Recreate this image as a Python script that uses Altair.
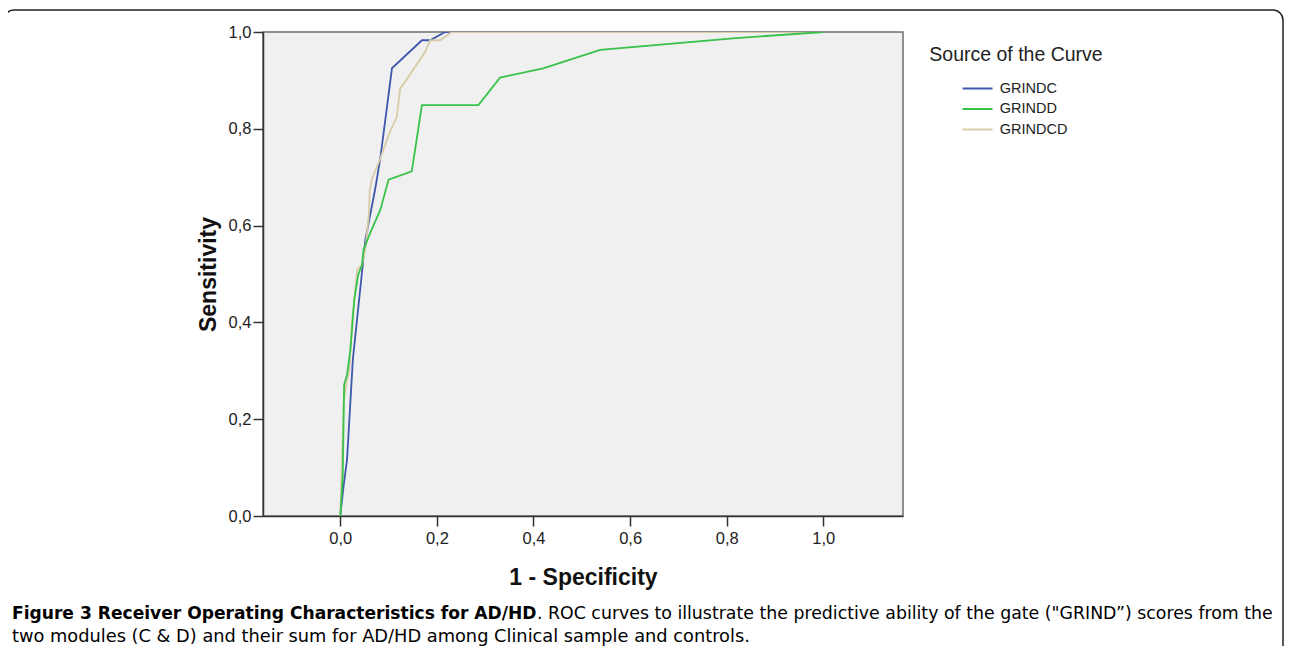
import altair as alt
import pandas as pd

# ---- data (1 - specificity, sensitivity) ----
series_names = ["GRINDC", "GRINDD", "GRINDCD"]
series_colors = ["#3E58AC", "#38C24A", "#D8CCA8"]

c_x = [0.0, 0.006, 0.014, 0.026, 0.052, 0.072, 0.083, 0.107, 0.169, 0.186, 0.217, 1.0]
c_y = [0.0, 0.055, 0.117, 0.323, 0.571, 0.674, 0.740, 0.925, 0.983, 0.983, 1.0, 1.0]

cd_x = [0.0, 0.0035, 0.007, 0.012, 0.019, 0.024, 0.031, 0.035, 0.045, 0.052, 0.059, 0.061,
        0.066, 0.083, 0.100, 0.117, 0.124, 0.134, 0.176, 0.186, 0.207, 0.231, 1.0]
cd_y = [0.0, 0.117, 0.234, 0.271, 0.302, 0.400, 0.467, 0.509, 0.519, 0.550, 0.622, 0.674,
        0.698, 0.739, 0.787, 0.825, 0.884, 0.897, 0.959, 0.983, 0.983, 1.0, 1.0]

d_x = [0.0, 0.005, 0.008, 0.014, 0.021, 0.029, 0.037, 0.045, 0.048, 0.062, 0.083, 0.100,
       0.148, 0.169, 0.286, 0.331, 0.420, 0.538, 0.813, 1.0]
d_y = [0.0, 0.079, 0.271, 0.292, 0.344, 0.447, 0.498, 0.519, 0.550, 0.585, 0.633, 0.695,
       0.712, 0.849, 0.849, 0.906, 0.925, 0.963, 0.987, 1.0]

x_ticks = [0.0, 0.2, 0.4, 0.6, 0.8, 1.0]
y_ticks = [0.0, 0.2, 0.4, 0.6, 0.8, 1.0]

legend_title = "Source of the Curve"
x_title = "1 - Specificity"
y_title = "Sensitivity"
caption_bold = "Figure 3 Receiver Operating Characteristics for AD/HD"
caption_rest = ". ROC curves to illustrate the predictive ability of the gate (\"GRIND\u201d) scores from the"
caption_line2 = "two modules (C & D) and their sum for AD/HD among Clinical sample and controls."

rows = []
# drawing order: GRINDC, GRINDCD, GRINDD (green on top)
for name, xs, ys in [("GRINDC", c_x, c_y), ("GRINDCD", cd_x, cd_y), ("GRINDD", d_x, d_y)]:
    for i, (xv, yv) in enumerate(zip(xs, ys)):
        rows.append({"series": name, "fpr": xv, "tpr": yv, "i": i})
df = pd.DataFrame(rows)

label_expr = "replace(format(datum.value, '.1f'), '.', ',')"

lines = alt.Chart(df).mark_line(strokeWidth=1.8, clip=True).encode(
    x=alt.X("fpr:Q",
            scale=alt.Scale(domain=[-0.16, 1.165], nice=False, zero=False),
            axis=alt.Axis(values=x_ticks, labelExpr=label_expr, grid=False,
                          tickSize=10, tickColor="#333333", tickWidth=1.5,
                          domainColor="#333333", domainWidth=1.5,
                          labelFont="Liberation Sans", labelFontSize=16.5, labelColor="#222222",
                          labelPadding=4, title=x_title, titleFont="Liberation Sans",
                          titleFontSize=23, titleFontWeight="bold", titleColor="#111111",
                          titlePadding=20)),
    y=alt.Y("tpr:Q",
            scale=alt.Scale(domain=[0, 1], nice=False),
            axis=alt.Axis(values=y_ticks, labelExpr=label_expr, grid=False,
                          tickSize=10, tickColor="#333333", tickWidth=1.5,
                          domainColor="#333333", domainWidth=1.5,
                          labelFont="Liberation Sans", labelFontSize=16.5, labelColor="#222222",
                          labelPadding=2, title=y_title, titleFont="Liberation Sans",
                          titleFontSize=23, titleFontWeight="bold", titleColor="#111111",
                          titlePadding=8)),
    color=alt.Color("series:N",
                    scale=alt.Scale(domain=series_names, range=series_colors),
                    legend=alt.Legend(title=None, orient="none", legendX=704, legendY=46,
                                      symbolType="M-1.62,0H1.62", symbolSize=342,
                                      symbolStrokeWidth=2, labelFont="Liberation Sans",
                                      labelFontSize=14.5, labelColor="#222222",
                                      labelOffset=11.75, padding=0, rowPadding=3.5)),
    detail="series:N",
    order=alt.Order("i:Q"),
)

one = alt.Data(values=[{"k": 1}])

frame = alt.Chart(one).mark_rect(fillOpacity=0, stroke="#222222", strokeWidth=1.5,
                                 cornerRadius=10).encode(
    x=alt.value(-259), x2=alt.value(1020), y=alt.value(-22), y2=alt.value(660))

leg_title = alt.Chart(one).mark_text(font="Liberation Sans", fontSize=19.5, color="#222222",
                                     align="center", baseline="middle").encode(
    x=alt.value(753), y=alt.value(23), text=alt.value(legend_title))

cap1 = alt.Chart(one).mark_text(font="DejaVu Sans", fontSize=17.1, fontWeight="bold",
                                color="#000000", align="left", baseline="middle").encode(
    x=alt.value(-251), y=alt.value(582), text=alt.value(caption_bold))

cap1b = alt.Chart(one).mark_text(font="DejaVu Sans", fontSize=17.35, color="#000000",
                                 align="left", baseline="middle").encode(
    x=alt.value(274), y=alt.value(582), text=alt.value(caption_rest))

cap2 = alt.Chart(one).mark_text(font="DejaVu Sans", fontSize=17.8, color="#000000",
                                align="left", baseline="middle").encode(
    x=alt.value(-251), y=alt.value(605), text=alt.value(caption_line2))

chart = alt.layer(frame, lines, leg_title, cap1, cap1b, cap2).properties(
    width=640, height=484,
    autosize=alt.AutoSizeParams(type="none"),
    padding={"left": 255, "top": 24, "right": 381, "bottom": 130},
    background="#ffffff",
).configure_view(
    fill="#f0f0f0", stroke="#6e6e6e", strokeWidth=1.5
)

chart.save("out.html", embed_options={"renderer": "svg", "actions": False})
